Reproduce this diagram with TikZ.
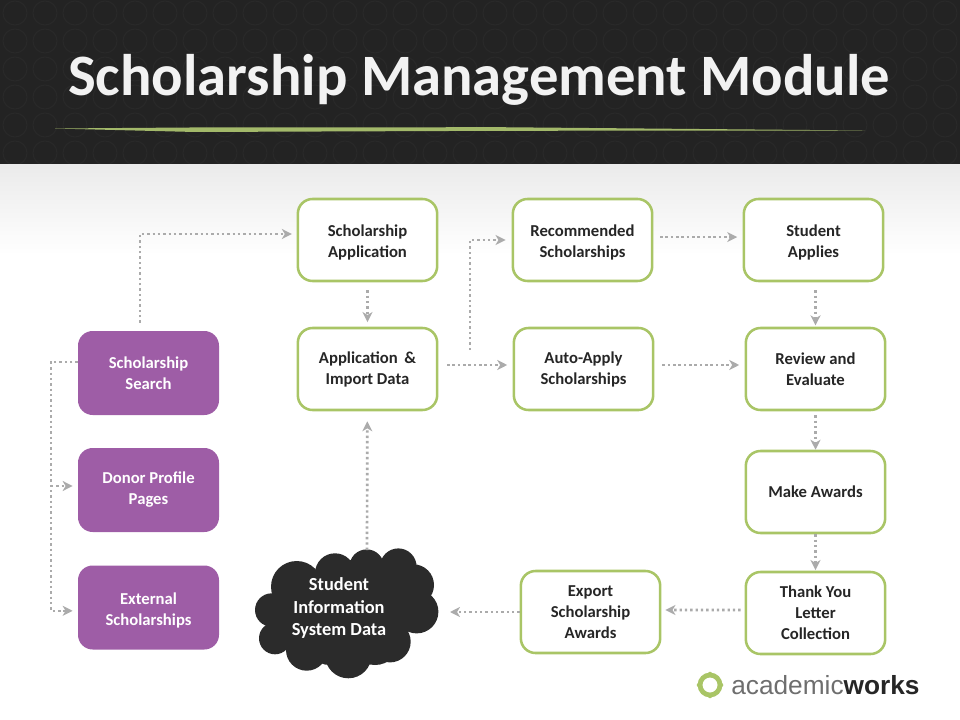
\documentclass[tikz,border=0pt]{standalone}
\usepackage{fontspec}
\setmainfont{Carlito}
\newfontfamily\logofont{Liberation Sans}
\usetikzlibrary{arrows.meta}
\definecolor{headbg}{HTML}{232323}
\definecolor{headring}{HTML}{292929}
\definecolor{brush}{HTML}{A3B96A}
\definecolor{boxgreen}{HTML}{A9C566}
\definecolor{boxpurple}{HTML}{9E5DA6}
\definecolor{flowgrey}{HTML}{ABABAB}
\definecolor{cloudbg}{HTML}{2B2B2B}
\definecolor{logogrey}{HTML}{6E6E6E}
\newcommand{\dropline}{\rule{0pt}{12.7pt}}
\tikzset{
  boxbase/.style={rectangle,rounded corners=11pt,minimum width=104.5pt,minimum height=61.5pt,inner sep=0pt,align=center,font=\bfseries\fontsize{12.5pt}{15.75pt}\selectfont},
  stepbox/.style={boxbase,draw=boxgreen,line width=1.9pt,fill=white,text=black!85},
  portal/.style={boxbase,fill=boxpurple,minimum width=105.75pt,minimum height=63pt,text=white},
  flow/.style={draw=flowgrey,line width=2pt,dash pattern=on 1.8pt off 2.2pt,-{Stealth[inset=2.2pt,length=7.5pt,width=7.5pt]}},
}
\begin{document}
\begin{tikzpicture}[x=0.75pt,y=-0.75pt]
\useasboundingbox (0,0) rectangle (960,720);
\shade[top color=black!8,bottom color=white] (0,164) rectangle (960,255);
\fill[headbg] (0,0) rectangle (960,164);
\begin{scope}
\clip (0,0) rectangle (960,164);
\foreach \row in {0,...,5}
  \foreach \col in {0,...,32}
    \draw[headring,line width=0.8pt] (15+30*\col,13+28*\row) circle[radius=12];
\end{scope}
\node[font=\bfseries\fontsize{44pt}{54pt}\selectfont,text=white!95!black,inner sep=0pt] (title) at (479,80) {Scholarship Management Module};
\fill[brush] (55,128.5) -- (190,127.5) -- (500,127.2) -- (865,130.5) -- (500,130.8) -- (195,132) -- cycle;

\node[stepbox] (schapp) at (367.5,240) {\dropline Scholarship\\Application};
\node[stepbox] (appimport) at (367.5,369) {Application \,\&\\Import Data};
\node[stepbox] (recommended) at (582.5,240) {\dropline Recommended\\Scholarships};
\node[stepbox] (autoapply) at (583.5,369) {Auto-Apply\\Scholarships};
\node[stepbox] (applies) at (813.5,240) {\dropline Student\\Applies};
\node[stepbox] (review) at (815.5,369) {Review and\\Evaluate};
\node[stepbox] (awards) at (815.5,492) {Make Awards};
\node[stepbox] (thanks) at (815.5,613) {Thank You\\Letter\\Collection};
\node[stepbox] (export) at (590.5,612) {Export\\Scholarship\\Awards};
\node[portal] (search) at (148.5,373) {Scholarship\\Search};
\node[portal] (donor) at (148.5,490) {Donor Profile\\Pages};
\node[portal] (external) at (148.5,607.5) {\dropline External\\Scholarships};

\foreach \cx/\cy/\cr in {271.7/610/16.7,275/638.3/16,306.7/650/20.7,348.3/655/23.3,390/641.7/20.7,416.7/611.7/21.7,413.3/585/20.7,398.3/566.7/18.3,366.7/566.7/17.3,335/573.3/20,296.7/586.7/25.7,346.7/610/43.3,306.7/616.7/33,383/610/33,290/625/20,330/640/25,375/640/25,395/600/25,350/585/25,380/585/15}
  \fill[cloudbg] (\cx,\cy) circle[radius=\cr];
\node[font=\bfseries\fontsize{13.8pt}{16.9pt}\selectfont,text=white,align=center,inner sep=0pt,minimum width=135pt,minimum height=95pt] (sis) at (339,608) {Student\\Information\\System Data};

\draw[flow,shorten <=6pt,shorten >=3.5pt] ([xshift=-6.4pt]search.north) |- ([yshift=4.5pt]schapp.west);
\draw[flow,shorten <=6pt,shorten >=3.5pt] (schapp) -- (appimport);
\coordinate (split) at (470,350);
\draw[flow,shorten >=4.5pt] (split) |- (recommended.west);
\draw[flow,shorten <=6.5pt,shorten >=4pt] ([yshift=3pt]appimport.east) -- ([yshift=3pt]autoapply.west);
\draw[flow,shorten <=5pt,shorten >=4pt] ([yshift=2.2pt]recommended.east) -- ([yshift=2.2pt]applies.west);
\draw[flow,shorten <=6pt,shorten >=4pt] ([yshift=3pt]autoapply.east) -- ([yshift=3pt]review.west);
\draw[flow,shorten <=6pt,shorten >=1pt] ([xshift=1.5pt]applies.south) -- (review.north);
\draw[flow,shorten <=3pt,shorten >=0pt] (review) -- (awards);
\draw[flow,shorten <=0pt,shorten >=0.5pt] (awards) -- (thanks);
\draw[flow,shorten <=3pt,shorten >=3pt] ([yshift=2.2pt]thanks.west) -- ([yshift=1.5pt]export.east);
\coordinate (sisin) at (450,612);
\draw[flow] (export.west) -- (sisin);
\coordinate (sisout) at (367,550);
\draw[flow,shorten >=7.5pt] (sisout) -- (appimport);
\coordinate (trunk) at (51,486);
\draw[flow,shorten >=3.8pt] ([yshift=8.2pt]search.west) -| (trunk) |- ([yshift=-2.5pt]external.west);
\draw[flow,shorten >=3.8pt] (trunk) -- (donor.west |- trunk);

\draw[boxgreen,line width=3.6pt] (710,685) circle[radius=10];
\foreach \ang in {0,90,180,270}
  \fill[boxgreen] (710,685) ++(\ang:11.3) circle[radius=2];
\node[font=\logofont\fontsize{19.7pt}{24pt}\selectfont,text=logogrey,anchor=west,inner sep=0pt] (logo) at (731,685) {academic\textcolor{black!85}{\bfseries works}};
\end{tikzpicture}
\end{document}
